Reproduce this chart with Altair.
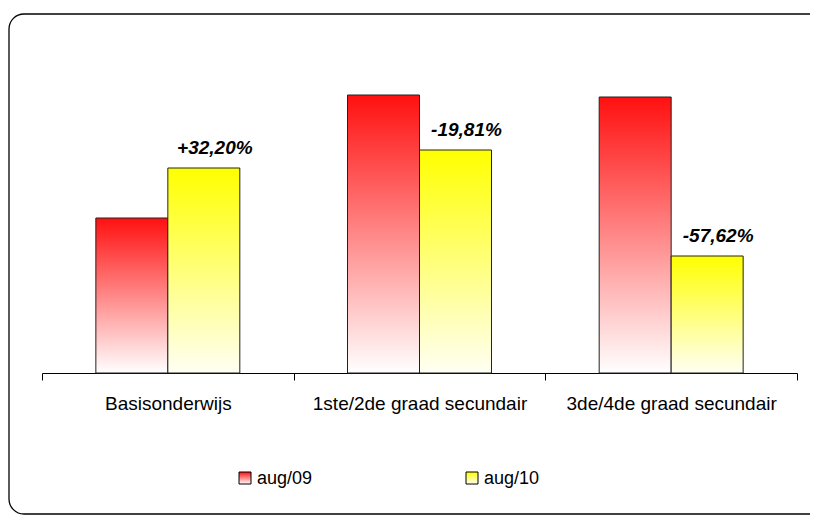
import math
import altair as alt
import pandas as pd

categories = ["Basisonderwijs", "1ste/2de graad secundair", "3de/4de graad secundair"]
series = ["aug/09", "aug/10"]
aug09 = [155, 278, 276]
aug10 = [205, 223, 117]
changes = ["+32,20%", "-19,81%", "-57,62%"]

rows = []
for c, a, b, ch in zip(categories, aug09, aug10, changes):
    rows.append({"category": c, "series": "aug/09", "value": a, "change": ""})
    rows.append({"category": c, "series": "aug/10", "value": b, "change": ch})
df = pd.DataFrame(rows)

FONT = "Liberation Sans"

red_grad = alt.LinearGradient(
    gradient="linear",
    stops=[alt.GradientStop(color="#ff1010", offset=0), alt.GradientStop(color="#ffffff", offset=1)],
    x1=0, x2=0, y1=0, y2=1,
)
yel_grad = alt.LinearGradient(
    gradient="linear",
    stops=[alt.GradientStop(color="#ffff00", offset=0), alt.GradientStop(color="#fffff4", offset=1)],
    x1=0, x2=0, y1=0, y2=1,
)

x_enc = alt.X(
    "category:N",
    sort=categories,
    scale=alt.Scale(paddingInner=0, paddingOuter=0),
    axis=alt.Axis(
        title=None, tickBand="extent", labelAngle=0, labelFontSize=19, labelFont=FONT,
        labelColor="#000000", domainColor="#000000", tickColor="#000000", tickSize=7,
        labelPadding=14, grid=False, domainWidth=1, tickWidth=1, labelLimit=0,
    ),
)
xo_enc = alt.XOffset("series:N", sort=series, scale=alt.Scale(domain=series, paddingInner=0, paddingOuter=0.748))
y_enc = alt.Y("value:Q", scale=alt.Scale(domain=[0, 300], nice=False), axis=None)

base = alt.Chart(df)

bars09 = base.transform_filter(alt.datum.series == "aug/09").mark_bar(
    fill=red_grad, stroke="#222222", strokeWidth=1
).encode(x=x_enc, xOffset=xo_enc, y=y_enc)

bars10 = base.transform_filter(alt.datum.series == "aug/10").mark_bar(
    fill=yel_grad, stroke="#222222", strokeWidth=1
).encode(x=x_enc, xOffset=xo_enc, y=y_enc)

labels = base.transform_filter(alt.datum.series == "aug/10").mark_text(
    font=FONT, fontSize=19, fontWeight="bold", fontStyle="italic", color="#000000",
    align="center", baseline="alphabetic", dx=11, dy=-14,
).encode(x=x_enc, xOffset=xo_enc, y=y_enc, text="change:N")

one = alt.Chart(pd.DataFrame({"k": [0]}))

# chart border (open on the right, where it runs past the picture)
FL, FT, FB, R = -33, -59, 441, 15
top_line = one.mark_rule(color="#000000", strokeWidth=1.3).encode(
    x=alt.value(FL + R), x2=alt.value(800), y=alt.value(FT)
)
bot_line = one.mark_rule(color="#000000", strokeWidth=1.3).encode(
    x=alt.value(FL + R), x2=alt.value(800), y=alt.value(FB)
)
left_line = one.mark_rule(color="#000000", strokeWidth=1.3).encode(
    x=alt.value(FL), y=alt.value(FT + R), y2=alt.value(FB - R)
)
corner_tl = one.mark_arc(
    theta=1.5 * math.pi, theta2=2 * math.pi, innerRadius=R - 0.65, outerRadius=R + 0.65, fill="#000000"
).encode(x=alt.value(FL + R), y=alt.value(FT + R))
corner_bl = one.mark_arc(
    theta=math.pi, theta2=1.5 * math.pi, innerRadius=R - 0.65, outerRadius=R + 0.65, fill="#000000"
).encode(x=alt.value(FL + R), y=alt.value(FB - R))

leg_red = one.mark_rect(fill=red_grad, stroke="#000000", strokeWidth=1).encode(
    x=alt.value(197), x2=alt.value(209), y=alt.value(399), y2=alt.value(411)
)
leg_yel = one.mark_rect(fill=yel_grad, stroke="#000000", strokeWidth=1).encode(
    x=alt.value(424), x2=alt.value(436), y=alt.value(399), y2=alt.value(411)
)
leg_t1 = one.mark_text(font=FONT, fontSize=18, align="left", baseline="alphabetic", color="#000000").encode(
    x=alt.value(215), y=alt.value(411), text=alt.value("aug/09")
)
leg_t2 = one.mark_text(font=FONT, fontSize=18, align="left", baseline="alphabetic", color="#000000").encode(
    x=alt.value(442), y=alt.value(411), text=alt.value("aug/10")
)

chart = alt.layer(
    top_line, bot_line, left_line, corner_tl, corner_bl,
    bars09, bars10, labels, leg_red, leg_yel, leg_t1, leg_t2
).properties(
    width=755,
    height=300,
    padding={"left": 34, "top": 65, "right": 13, "bottom": 142},
    autosize=alt.AutoSizeParams(type="none"),
    background="#ffffff",
).configure(font=FONT).configure_view(strokeWidth=0, stroke="transparent")

chart.save("out.html", embed_options={"renderer": "svg", "actions": False})
